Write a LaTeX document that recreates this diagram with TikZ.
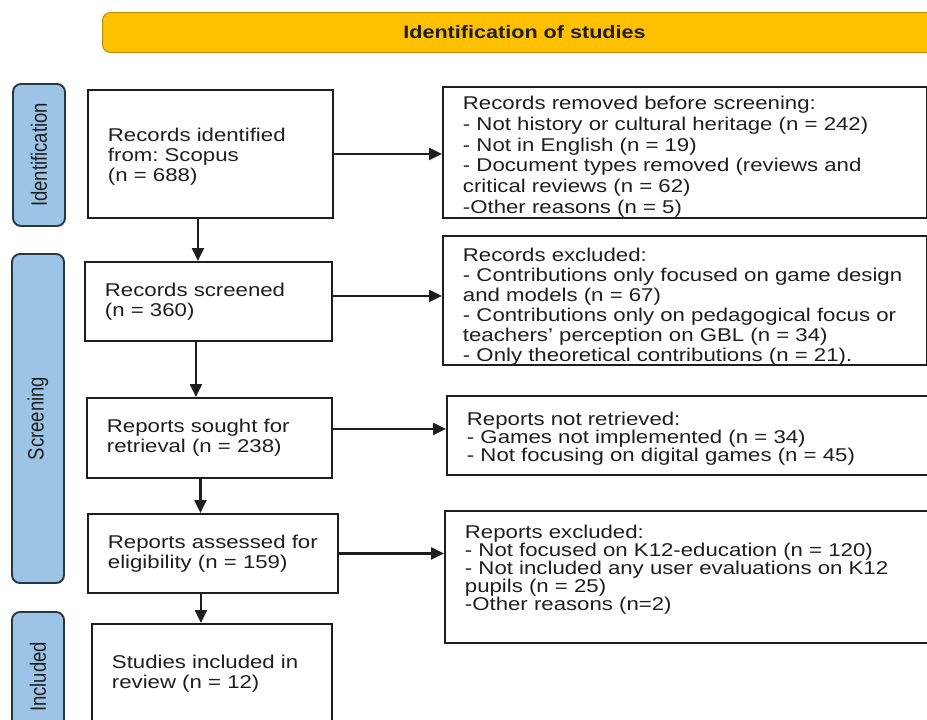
\documentclass[tikz,border=0pt]{standalone}
\usepackage{fontspec}
\usepackage{graphicx}
\setmainfont{Liberation Sans}[FakeStretch=1.2]
\newfontfamily\sidefont{Liberation Sans}
\usetikzlibrary{arrows.meta,calc}
\definecolor{yfill}{HTML}{FFC000}
\definecolor{ybd}{HTML}{C09000}
\definecolor{sidefill}{HTML}{9DC3E6}
\definecolor{sidebd}{HTML}{2B3645}
\definecolor{ink}{HTML}{1E1E1E}
\frenchspacing
\begin{document}
\begin{tikzpicture}[x=1pt,y=-1pt,
  box/.style={draw=ink,line width=1.9pt,fill=white,anchor=north west,align=left,
    inner xsep=20pt,inner ysep=0pt,text=ink,font=\frenchspacing\fontsize{18.5}{20}\selectfont},
  sidebar/.style={draw=sidebd,fill=sidefill,line width=1.9pt,rounded corners=8pt,
    rotate=90,minimum height=52pt,inner sep=0pt,text=ink,font=\sidefont\fontsize{18.5}{20}\selectfont},
  arr/.style={draw=ink,line width=2.2pt,-{Triangle[length=13pt,width=12pt]}},
]
\clip (0,0) rectangle (927,720);
\fill[white] (0,0) rectangle (927,720);

% title bar
\node[draw=ybd,fill=yfill,line width=1pt,rounded corners=8pt,anchor=north west,
  minimum width=844pt,minimum height=40pt,inner sep=0pt,
  font=\bfseries\fontsize{18}{20}\selectfont,text=ink] (title) at (102,12) {Identification of studies};

% side bars
\node[sidebar,minimum width=142pt] (sid) at (39,155) {\scalebox{1}[1.2]{Identification}};
\node[sidebar,minimum width=329pt] (sscr) at (38,418.5) {\scalebox{1}[1.2]{Screening}};
\node[sidebar,minimum width=130pt] (sinc) at (38,677) {\scalebox{1}[1.2]{Included}};

% left boxes
\node[box,text width=205pt,minimum height=128pt] (b1) at (87,89)
  {\rule{0pt}{18pt}Records identified\\from: Scopus\\(n = 688)};
\node[box,text width=207pt,minimum height=79pt] (b2) at (84,261)
  {Records screened\\(n = 360)};
\node[box,text width=205pt,minimum height=80pt] (b3) at (86,397)
  {Reports sought for\\retrieval (n = 238)};
\node[box,text width=210pt,minimum height=79pt] (b4) at (87,513)
  {Reports assessed for\\eligibility (n = 159)};
\node[box,text width=200pt,minimum height=100pt] (b5) at (91,623)
  {Studies included in\\review (n = 12)};

% right boxes
\node[box,text width=444pt,minimum height=131pt,font=\frenchspacing\fontsize{18.5}{20.7}\selectfont] (r1) at (442,86)
  {\rule{0pt}{22pt}\mbox{Records removed before screening:}\\
   \mbox{- Not history or cultural heritage (n = 242)}\\
   \mbox{- Not in English (n = 19)}\\
   \mbox{- Document types removed (reviews and}\\
   \mbox{critical reviews (n = 62)}\\
   \mbox{-Other reasons (n = 5)}};
\node[box,text width=444pt,minimum height=128pt,font=\frenchspacing\fontsize{18.5}{19.9}\selectfont] (r2) at (442,235)
  {\rule{0pt}{26pt}\mbox{Records excluded:}\\
   \mbox{- Contributions only focused on game design}\\
   \mbox{and models (n = 67)}\\
   \mbox{- Contributions only on pedagogical focus or}\\
   \mbox{teachers’ perception on GBL (n = 34)}\\
   \mbox{- Only theoretical contributions (n = 21).}};
\node[box,text width=441pt,minimum height=79pt,font=\frenchspacing\fontsize{18.5}{18}\selectfont] (r3) at (446,395)
  {\rule{0pt}{19pt}\mbox{Reports not retrieved:}\\
   \mbox{- Games not implemented (n = 34)}\\
   \mbox{- Not focusing on digital games (n = 45)}};
\node[box,text width=443pt,minimum height=132pt,font=\frenchspacing\fontsize{18.5}{18}\selectfont] (r4) at (444,510)
  {\mbox{Reports excluded:}\\
   \mbox{- Not focused on K12-education (n = 120)}\\
   \mbox{- Not included any user evaluations on K12}\\
   \mbox{pupils (n = 25)}\\
   \mbox{-Other reasons (n=2)}\\
   \mbox{}};

% vertical connectors
\draw[arr] ([xshift=-12.5pt]b1.south) -- ([xshift=-12.5pt]b1.south |- b2.north);
\draw[arr] ([xshift=-12.5pt]b2.south) -- ([xshift=-12.5pt]b2.south |- b3.north);
\draw[arr] ([xshift=-9pt]b3.south) -- ([xshift=-9pt]b3.south |- b4.north);
\draw[arr] ([xshift=-12pt]b4.south) -- ([xshift=-12pt]b4.south |- b5.north);

% horizontal connectors
\draw[arr] (b1.east) -- (b1.east -| r1.west);
\draw[arr] ([yshift=5.5pt]b2.east) -- ([yshift=5.5pt]b2.east -| r2.west);
\draw[arr] ([yshift=9pt]b3.east) -- ([yshift=9pt]b3.east -| r3.west);
\draw[arr] (b4.east) -- (b4.east -| r4.west);
\end{tikzpicture}
\end{document}
